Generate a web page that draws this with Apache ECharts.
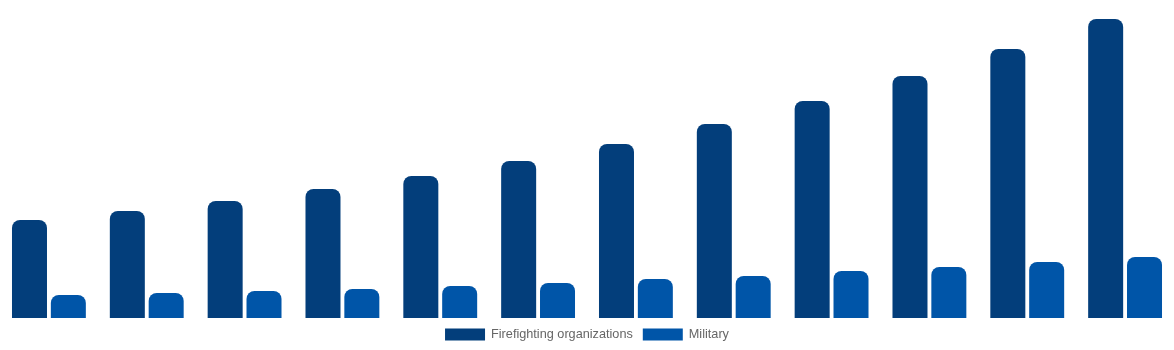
<!DOCTYPE html>
<html><head><meta charset="utf-8">
<script src="https://cdn.jsdelivr.net/npm/echarts@6/dist/echarts.min.js"></script>
<style>html,body{margin:0;padding:0;background:#fff}#c{width:1174px;height:350px}</style>
</head><body><div id="c"></div>
<script>
const categories = ['1','2','3','4','5','6','7','8','9','10','11','12'];
const firefighting = [98, 107, 117, 129, 142, 157, 174, 194, 217, 242, 269, 299];
const military = [23, 25, 27, 29, 32, 35, 39, 42, 47, 51, 56, 61];
const chart = echarts.init(document.getElementById('c'));
chart.setOption({
  animation: false,
  grid: {left: 0, right: 0, top: 18, bottom: 32},
  legend: {
    top: 326, left: 'center', itemWidth: 40, itemHeight: 12, itemGap: 10, icon: 'rect',
    padding: [2, 5],
    textStyle: {color: '#666', fontSize: 12.7, padding: [0, 0, 0, 1], fontFamily: '"Liberation Sans", Arial, sans-serif'},
    data: ['Firefighting organizations', 'Military']
  },
  xAxis: {type: 'category', data: categories, show: false},
  yAxis: {type: 'value', min: 0, max: 300, show: false},
  series: [
    {name: 'Firefighting organizations', type: 'bar', data: firefighting, barWidth: 35, barGap: '11%',
     itemStyle: {color: '#033E7B', borderRadius: [8, 8, 0, 0]}},
    {name: 'Military', type: 'bar', data: military, barWidth: 35,
     itemStyle: {color: '#0055A8', borderRadius: [8, 8, 0, 0]}}
  ]
});
</script></body></html>
